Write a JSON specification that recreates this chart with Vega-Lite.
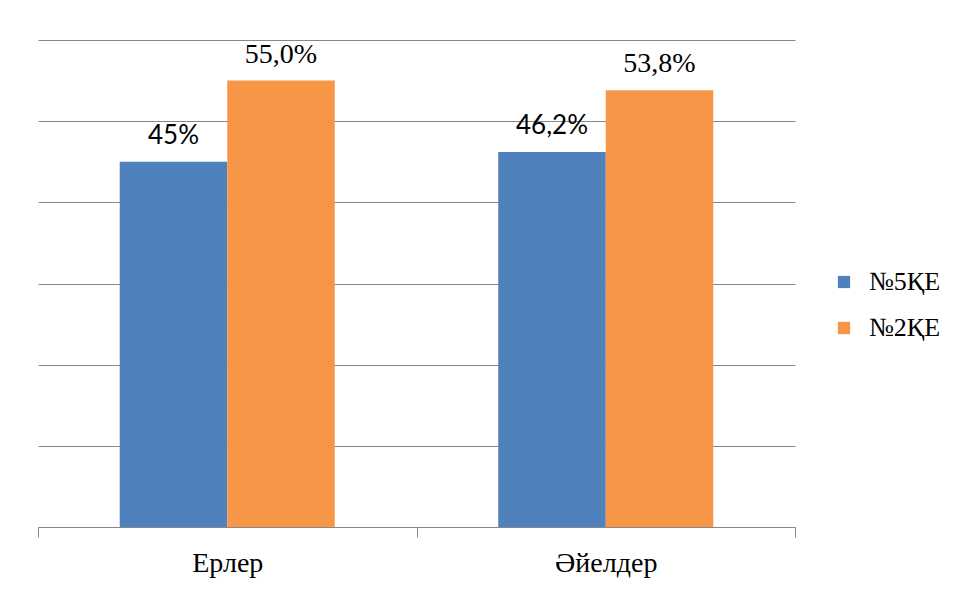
{
  "$schema": "https://vega.github.io/schema/vega-lite/v6.json",
  "width": 757,
  "height": 487,
  "autosize": {"type": "none"},
  "padding": {"left": 38, "top": 40, "right": 165, "bottom": 62},
  "background": "white",
  "config": {"view": {"stroke": null}},
  "data": {
    "values": [
      {"group": "Ерлер", "series": "№5ҚЕ", "value": 45.0, "label": "45%"},
      {"group": "Ерлер", "series": "№2ҚЕ", "value": 55.0, "label": "55,0%"},
      {"group": "Әйелдер", "series": "№5ҚЕ", "value": 46.2, "label": "46,2%"},
      {"group": "Әйелдер", "series": "№2ҚЕ", "value": 53.8, "label": "53,8%"}
    ]
  },
  "encoding": {
    "x": {
      "field": "group", "type": "nominal", "sort": ["Ерлер", "Әйелдер"],
      "scale": {"paddingInner": 0, "paddingOuter": 0},
      "axis": {
        "title": null, "labelAngle": 0, "labelFont": "Liberation Serif", "labelFontSize": 28,
        "labelColor": "#000000", "domainColor": "#888888", "tickColor": "#888888",
        "tickSize": 10, "tickBand": "extent", "labelPadding": 12, "grid": false
      }
    },
    "xOffset": {
      "field": "series", "type": "nominal", "sort": ["№5ҚЕ", "№2ҚЕ"],
      "scale": {"paddingInner": 0, "paddingOuter": 0.76}
    },
    "y": {
      "field": "value", "type": "quantitative",
      "scale": {"domain": [0, 60], "nice": false},
      "axis": {
        "title": null, "labels": false, "ticks": false, "domain": false,
        "grid": true, "gridColor": "#888888", "gridWidth": 1,
        "values": [0, 10, 20, 30, 40, 50, 60]
      }
    }
  },
  "layer": [
    {
      "mark": {"type": "bar"},
      "encoding": {
        "color": {
          "field": "series", "type": "nominal",
          "scale": {"domain": ["№5ҚЕ", "№2ҚЕ"], "range": ["#4F81BD", "#F79646"]},
          "legend": {
            "title": null, "orient": "none", "legendX": 793, "legendY": 229,
            "symbolType": "square", "symbolSize": 150, "symbolStrokeWidth": 0,
            "labelFont": "Liberation Serif", "labelFontSize": 26, "labelColor": "#000000",
            "labelOffset": 12, "rowPadding": 20, "padding": 0
          }
        }
      }
    },
    {
      "transform": [{"filter": "datum.series === '№5ҚЕ'"}],
      "mark": {"type": "text", "baseline": "alphabetic", "dy": -18, "font": "Lato", "fontSize": 26, "color": "#000000"},
      "encoding": {"text": {"field": "label"}}
    },
    {
      "transform": [{"filter": "datum.series === '№2ҚЕ'"}],
      "mark": {"type": "text", "baseline": "alphabetic", "dy": -18, "font": "Liberation Serif", "fontSize": 28, "color": "#000000"},
      "encoding": {"text": {"field": "label"}}
    }
  ]
}
